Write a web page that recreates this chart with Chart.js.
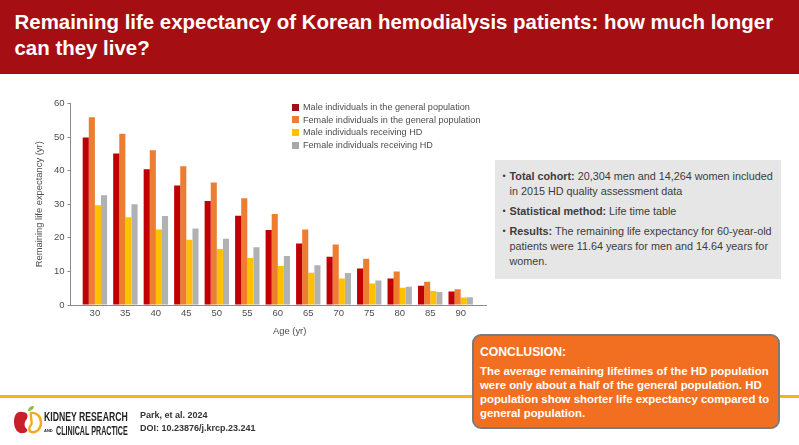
<!DOCTYPE html>
<html>
<head>
<meta charset="utf-8">
<style>
  html, body { margin: 0; padding: 0; background: #fff; }
  body { width: 799px; height: 445px; position: relative; overflow: hidden; font-family: "Liberation Sans", sans-serif; }
  .abs { position: absolute; }
  #banner { left: 0; top: 0; width: 799px; height: 74px; background: #a50e12; }
  #title { left: 14.5px; top: 9px; color: #fff; font: bold 20.45px/25.5px "Liberation Sans", sans-serif; white-space: nowrap; }
  #wrap { left: 0; top: 0; width: 799px; height: 445px; }
  #wrap canvas { display: block; }
  #legend { left: 292px; top: 101px; font-size: 9.1px; color: #4d4d4d; }
  #legend div { height: 12.7px; line-height: 12.7px; white-space: nowrap; }
  #legend i { display: inline-block; width: 7px; height: 7px; margin-right: 4px; vertical-align: -0.5px; }
  #xname { left: 273px; top: 325px; font-size: 9.4px; line-height: 12px; color: #4d4d4d; }
  #info { left: 495px; top: 160px; width: 286px; height: 119px; background: #e6e6e6; color: #3c3c3c; font-size: 10.8px; line-height: 15px; }
  #info p { position: absolute; left: 14.5px; margin: 0; white-space: nowrap; }
  #info p:before { content: "•"; position: absolute; left: -7px; font-size: 9px; }
  #rule { left: 0; top: 395px; width: 799px; height: 3px; background: #fdb01a; }
  #concl { left: 472px; top: 334px; width: 304px; height: 91px; border: 2px solid #7b7b7b; border-radius: 9px; background: #f26f21; color: #fff; font-weight: bold; }
  #concl h4 { margin: 0; position: absolute; left: 6px; top: 8px; font: bold 12.2px/16px "Liberation Sans", sans-serif; }
  #concl div { position: absolute; left: 6px; top: 28px; font-size: 11.4px; line-height: 14.1px; white-space: nowrap; }
  #cite { left: 140px; top: 409px; color: #333; font-size: 9px; font-weight: bold; line-height: 12.5px; white-space: nowrap; }
  .brand { color: #222; font: bold 13px/14px "Liberation Sans", sans-serif; white-space: nowrap; transform-origin: left center; }
  .and { color: #222; font: bold 4px/6px "Liberation Sans", sans-serif; }
</style>
</head>
<body>
<div class="abs" id="wrap"><canvas id="grafico" width="799" height="445"></canvas></div>
<div class="abs" id="banner"></div>
<div class="abs" id="title">Remaining life expectancy of Korean hemodialysis patients: how much longer<br>can they live?</div>
<div class="abs" id="legend"></div>
<div class="abs" id="xname">Age (yr)</div>
<div class="abs" id="info">
  <p style="top:9px"><b>Total cohort:</b> 20,304 men and 14,264 women included<br>in 2015 HD quality assessment data</p>
  <p style="top:44px"><b>Statistical method:</b> Life time table</p>
  <p style="top:64px"><b>Results:</b> The remaining life expectancy for 60-year-old<br>patients were 11.64 years for men and 14.64 years for<br>women.</p>
</div>
<div class="abs" id="rule"></div>
<div class="abs" id="concl">
  <h4>CONCLUSION:</h4>
  <div>The average remaining lifetimes of the HD population<br>were only about a half of the general population. HD<br>population show shorter life expectancy compared to<br>general population.</div>
</div>
<svg class="abs" style="left:13px;top:405px" width="30" height="31" viewBox="0 0 30 31">
  <path d="M9 7 C4 6 1 10 1 17 C1 24 5 29 10 28 C13 28 15 26 14 24 C11 22 11 18 13 15 C15 13 15 9 13 8 C12 7 10 7 9 7 Z" fill="#c8202a"/>
  <path d="M18 8 C24 7 28 12 28 18 C28 24 23 28 19 27 C15 26 16 22 18 20 C20 18 17 12 18 8 Z" fill="none" stroke="#f7a81b" stroke-width="2.4"/>
  <path d="M15 6 C15 3 17 1 21 1 C21 4 18 6 15 6 Z" fill="#8dbf3f"/>
</svg>
<div class="abs brand" style="left:44px;top:410px;transform:scaleX(.667)">KIDNEY RESEARCH</div>
<div class="abs and" style="left:44px;top:428px">AND</div>
<div class="abs brand" style="left:56px;top:424px;transform:scaleX(.55)">CLINICAL PRACTICE</div>
<div class="abs" id="cite">Park, et al. 2024<br>DOI: 10.23876/j.krcp.23.241</div>
<script src="https://cdn.jsdelivr.net/npm/chart.js@4"></script>
<script>
const ages = [30, 35, 40, 45, 50, 55, 60, 65, 70, 75, 80, 85, 90];
const maleGeneral = [49.9, 45.1, 40.4, 35.6, 31, 26.6, 22.3, 18.3, 14.4, 10.9, 7.9, 5.7, 4];
const femaleGeneral = [55.9, 51, 46.1, 41.3, 36.5, 31.8, 27.1, 22.5, 18, 13.8, 10, 6.9, 4.7];
const maleHD = [29.7, 26.1, 22.5, 19.4, 16.7, 14, 11.6, 9.6, 7.9, 6.4, 5.1, 4.2, 2.2];
const femaleHD = [32.7, 30, 26.5, 22.8, 19.7, 17.2, 14.6, 11.8, 9.5, 7.3, 5.4, 3.9, 2.3];
const yTicks = [0, 10, 20, 30, 40, 50, 60];
const seriesNames = ['Male individuals in the general population', 'Female individuals in the general population', 'Male individuals receiving HD', 'Female individuals receiving HD'];
const barColors = ['#c00000', '#ed7d31', '#ffc000', '#b0b1b3'];
const legendColors = ['#a50e12', '#ed7d31', '#ffc000', '#a9a9a9'];

document.getElementById('legend').innerHTML = seriesNames.map((n, i) =>
  `<div><i style="background:${legendColors[i]}"></i>${n}</div>`).join('');

const toPoints = vals => vals.map((v, i) => ({ x: ages[i], y: v }));
const allSeries = [maleGeneral, femaleGeneral, maleHD, femaleHD];

new Chart(document.getElementById('grafico'), {
  type: 'bar',
  data: {
    datasets: allSeries.map((vals, i) => ({
      label: seriesNames[i],
      data: toPoints(vals),
      backgroundColor: barColors[i],
      borderWidth: 0
    }))
  },
  options: {
    responsive: false,
    animation: false,
    devicePixelRatio: 1,
    categoryPercentage: 0.8,
    barPercentage: 1,
    layout: { autoPadding: false, padding: { left: 30, top: 103.5, right: 313, bottom: 100 } },
    plugins: { legend: { display: false }, tooltip: { enabled: false } },
    scales: {
      x: {
        type: 'linear',
        offset: false,
        min: 26,
        max: 94.15,
        afterBuildTicks: s => { s.ticks = ages.map(v => ({ value: v })); },
        afterFit: s => { s.height = 40; },
        grid: { display: false, drawTicks: false, offset: false },
        border: { color: '#8c8c8c', width: 1 },
        ticks: { color: '#4d4d4d', font: { size: 9.5, family: 'Liberation Sans' }, padding: 3, maxRotation: 0, autoSkip: false }
      },
      y: {
        min: 0,
        max: 60,
        afterBuildTicks: s => { s.ticks = yTicks.map(v => ({ value: v })); },
        afterFit: s => { s.width = 40.5; },
        grid: { display: true, drawOnChartArea: false, drawTicks: true, tickLength: 3, color: '#8c8c8c' },
        border: { color: '#8c8c8c', width: 1 },
        ticks: { color: '#4d4d4d', font: { size: 9.5, family: 'Liberation Sans' }, padding: 3 },
        title: { display: true, text: 'Remaining life expectancy (yr)', color: '#4d4d4d', font: { size: 9.4, family: 'Liberation Sans' }, padding: { top: 4, bottom: 6 } }
      }
    }
  }
});
</script>
</body>
</html>
